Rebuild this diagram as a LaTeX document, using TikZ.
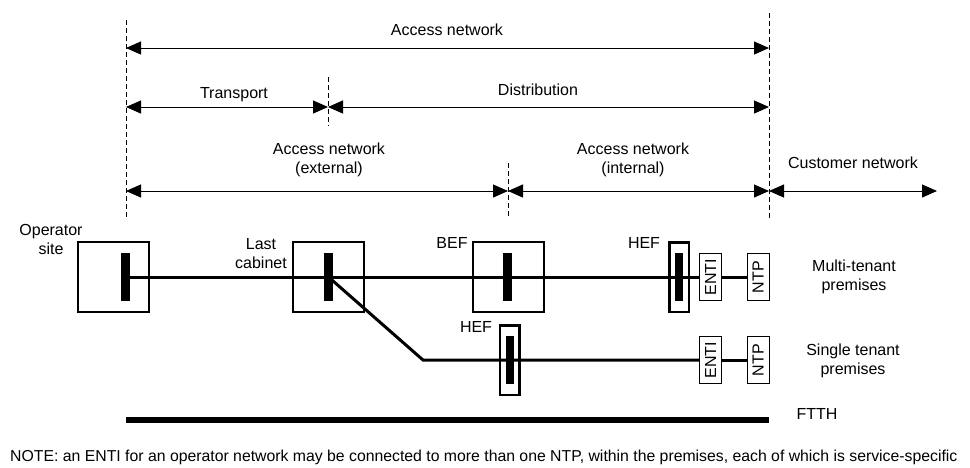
\documentclass[tikz,border=0pt]{standalone}
\usepackage{fontspec}
\setmainfont{Liberation Sans}
\usetikzlibrary{arrows.meta,positioning}

\begin{document}
\begin{tikzpicture}[
    x=1pt, y=-1pt,
    font=\fontsize{16}{19}\selectfont,
    >={Triangle[length=15pt, width=13pt]},
    bound/.style={line width=1pt, dash pattern=on 5pt off 3pt},
    span/.style={<->, line width=1pt},
    lbl/.style={align=center, inner sep=0pt},
    site/.style={draw=black, line width=2pt, minimum width=71pt,
                 minimum height=70pt, inner sep=0pt},
    hef/.style={draw=black, line width=2.5pt, minimum width=19.5pt,
                minimum height=69.5pt, inner sep=0pt},
    bar/.style={fill=black, minimum width=9pt, minimum height=48pt, inner sep=0pt},
    term/.style={draw=black, line width=1pt, fill=white, rotate=90,
                 minimum width=47pt, minimum height=22pt, inner sep=0pt},
    fiber/.style={line width=3pt}
  ]
    \useasboundingbox (0,0) rectangle (970,467);

    % boundaries
    \coordinate (opTop) at (126,20);
    \coordinate (opBot) at (126,218);
    \coordinate (cabTop) at (328,77);
    \coordinate (cabBot) at (328,126);
    \coordinate (befTop) at (508,163);
    \coordinate (befBot) at (508,218);
    \coordinate (cusTop) at (769,13);
    \coordinate (cusBot) at (769,218);
    \draw[bound] (opTop) -- (opBot);
    \draw[bound] (cabTop) -- (cabBot);
    \draw[bound] (befTop) -- (befBot);
    \draw[bound] (cusTop) -- (cusBot);

    % spans
    \coordinate (an-l) at (126,48);
    \coordinate (an-r) at (769,48);
    \coordinate (tr-l) at (126,107);
    \coordinate (tr-r) at (328,107);
    \coordinate (di-r) at (769,107);
    \coordinate (ex-l) at (126,191);
    \coordinate (ex-r) at (508,191);
    \coordinate (in-r) at (769,191);
    \coordinate (cu-r) at (937,191);
    \draw[span] (an-l) -- (an-r);
    \draw[span] (tr-l) -- (tr-r);
    \draw[span] (tr-r) -- (di-r);
    \draw[span] (ex-l) -- (ex-r);
    \draw[span] (ex-r) -- (in-r);
    \draw[span] (in-r) -- (cu-r);

    \node[lbl] (access) at (447,30) {Access network};
    \node[lbl] (transport) at (234,95) {Transport};
    \node[lbl] (distrib) at (538,90) {Distribution};
    \node[lbl] (external) at (329,160) {Access network\\(external)};
    \node[lbl] (internal) at (633,160) {Access network\\(internal)};
    \node[lbl] (customer) at (853,163) {Customer network};

    % multi-tenant branch
    \node[site] (opsite) at (113.5,277) {};
    \node[bar] (opbar) at (125.5,277) {};
    \node[site] (cab) at (328.5,277) {};
    \node[bar] (cabbar) at (328.5,277) {};
    \node[site] (bef) at (508,277) {};
    \node[bar] (befbar) at (507.5,277) {};
    \node[hef] (hefA) at (679,277) {};
    \node[bar, minimum width=8pt] (hefAbar) at (679,277) {};
    \node[term] (entiA) at (710.5,277) {ENTI};
    \node[term] (ntpA) at (758,277) {NTP};

    % single tenant branch
    \coordinate (knee) at (423,360);
    \node[hef] (hefB) at (509.5,360) {};
    \node[bar, minimum width=8pt] (hefBbar) at (509.5,360) {};
    \node[term] (entiB) at (710.5,360) {ENTI};
    \node[term] (ntpB) at (758,360) {NTP};

    \draw[fiber] (opbar) -- (entiA);
    \draw[fiber] (entiA) -- (ntpA);
    \draw[fiber] (cabbar.center) -- (knee) -- (entiB);
    \draw[fiber] (entiB) -- (ntpB);

    \node[lbl] (opname) at (51,239.5) {Operator\\site};
    \node[lbl] (cabname) at (261,254) {Last\\cabinet};
    \node[lbl] (befname) at (452,243) {BEF};
    \node[lbl] (hefAname) at (644,243) {HEF};
    \node[lbl] (hefBname) at (476,327) {HEF};
    \node[lbl] (multi) at (854,277) {Multi-tenant\\premises};
    \node[lbl] (single) at (853,361) {Single tenant\\premises};

    % FTTH
    \coordinate (ftth-l) at (126,420);
    \coordinate (ftth-r) at (769,420);
    \draw[line width=6pt] (ftth-l) -- (ftth-r);
    \node[lbl] (ftth) at (817,414) {FTTH};

    \node[lbl, anchor=west, font=\fontsize{15.8}{19}\selectfont] (note) at (10,457)
      {NOTE: an ENTI for an operator network may be connected to more than one NTP, within the premises, each of which is service-specific};
  \end{tikzpicture}
\end{document}
